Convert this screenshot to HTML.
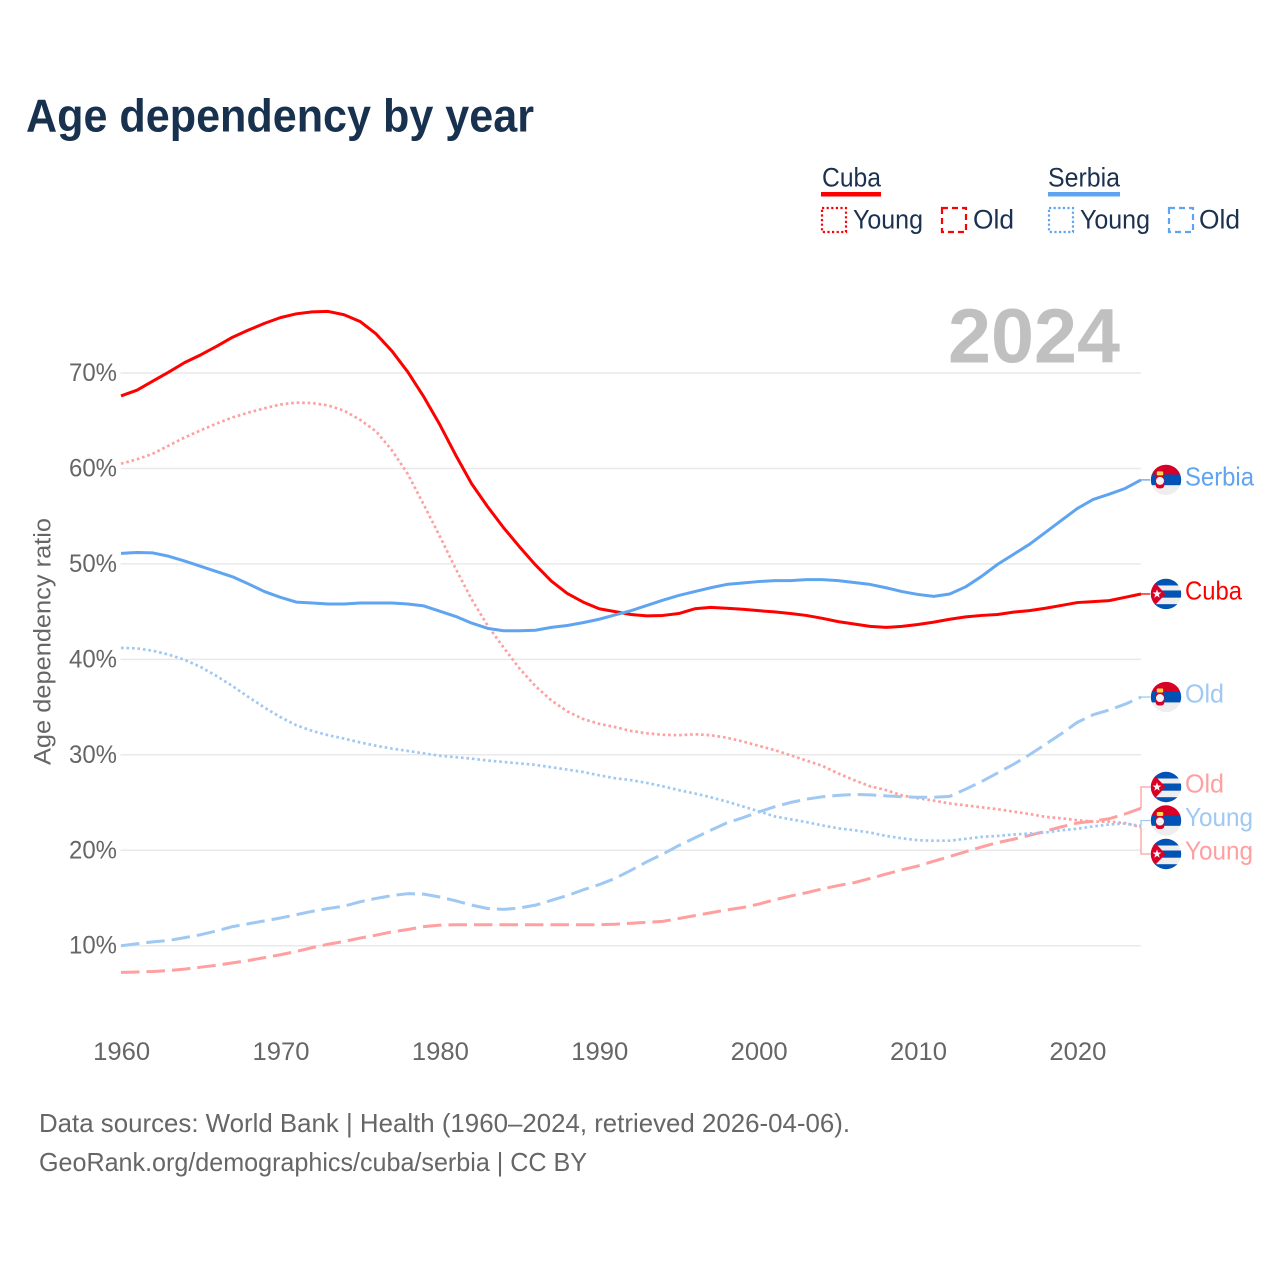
<!DOCTYPE html>
<html lang="en">
<head>
<meta charset="utf-8">
<title>Age dependency by year</title>
<style>
html,body{margin:0;padding:0;background:#fff;}
svg{display:block;font-family:"Liberation Sans",sans-serif;}
</style>
</head>
<body>
<svg id="chart" xmlns="http://www.w3.org/2000/svg" width="1280" height="1280" viewBox="0 0 1280 1280">
  <rect x="0" y="0" width="1280" height="1280" fill="#ffffff"/>
  <text x="26" y="131.5" font-size="46" font-weight="700" fill="#17314f" textLength="508" lengthAdjust="spacingAndGlyphs">Age dependency by year</text>

  <g font-size="26.5" fill="#1a3150">
    <g>
      <text x="822" y="186.5" textLength="59" lengthAdjust="spacingAndGlyphs">Cuba</text>
      <rect x="821" y="192" width="60" height="4.5" fill="#ff0000"/>
      <rect x="822" y="208" width="24" height="24" fill="none" stroke="#ff0000" stroke-width="2.2" stroke-dasharray="2.2 2.4"/>
      <text x="853" y="228.5" textLength="70" lengthAdjust="spacingAndGlyphs">Young</text>
      <rect x="942" y="208" width="24" height="24" fill="none" stroke="#ff0000" stroke-width="2.2" stroke-dasharray="6 4"/>
      <text x="973" y="228.5" textLength="41" lengthAdjust="spacingAndGlyphs">Old</text>
    </g>
    <g>
      <text x="1048" y="186.5" textLength="72" lengthAdjust="spacingAndGlyphs">Serbia</text>
      <rect x="1048" y="192" width="72" height="4.5" fill="#5fa4f0"/>
      <rect x="1049" y="208" width="24" height="24" fill="none" stroke="#5fa4f0" stroke-width="2.2" stroke-dasharray="2.2 2.4"/>
      <text x="1080" y="228.5" textLength="70" lengthAdjust="spacingAndGlyphs">Young</text>
      <rect x="1169" y="208" width="24" height="24" fill="none" stroke="#5fa4f0" stroke-width="2.2" stroke-dasharray="6 4"/>
      <text x="1199" y="228.5" textLength="41" lengthAdjust="spacingAndGlyphs">Old</text>
    </g>
  </g>

  <text x="948" y="362.5" font-size="77" font-weight="700" fill="#c0c0c0" textLength="172" lengthAdjust="spacingAndGlyphs">2024</text>
  <text transform="translate(50.5,765) rotate(-90)" font-size="24.5" fill="#666666" textLength="247" lengthAdjust="spacingAndGlyphs">Age dependency ratio</text>

  <g id="grid"></g>
  <g id="y-ticks"></g>
  <g id="x-ticks"></g>
  <g id="series"></g>
  <g id="end-labels"></g>

  <text x="39" y="1132" font-size="26" fill="#666666" textLength="811" lengthAdjust="spacingAndGlyphs">Data sources: World Bank | Health (1960–2024, retrieved 2026-04-06).</text>
  <text x="39" y="1171" font-size="26" fill="#666666" textLength="548" lengthAdjust="spacingAndGlyphs">GeoRank.org/demographics/cuba/serbia | CC BY</text>
</svg>

<script>
const startYear = 1960;
const endYear = 2024;
const xTicks = [1960, 1970, 1980, 1990, 2000, 2010, 2020];
const yTicks = [10, 20, 30, 40, 50, 60, 70];

const cubaTotal = [67.6,68.2,69.15,70.1,71.1,71.9,72.8,73.75,74.5,75.2,75.8,76.2,76.4,76.45,76.1,75.4,74.1,72.3,70.1,67.5,64.6,61.4,58.4,56.0,53.8,51.8,49.9,48.2,46.9,46.0,45.3,45.0,44.7,44.55,44.6,44.8,45.3,45.45,45.35,45.25,45.1,44.97,44.8,44.6,44.3,43.95,43.7,43.45,43.35,43.45,43.65,43.9,44.2,44.45,44.6,44.7,44.95,45.1,45.35,45.65,45.95,46.05,46.15,46.5,46.85];
const serbiaTotal = [51.1,51.2,51.15,50.8,50.3,49.75,49.2,48.65,47.9,47.1,46.5,46.0,45.9,45.8,45.8,45.9,45.9,45.9,45.8,45.6,45.05,44.5,43.8,43.25,43.0,43.0,43.05,43.35,43.55,43.85,44.2,44.65,45.1,45.65,46.2,46.7,47.1,47.5,47.85,48.0,48.15,48.25,48.25,48.35,48.35,48.25,48.05,47.85,47.5,47.1,46.8,46.6,46.85,47.6,48.7,49.95,51.0,52.05,53.3,54.55,55.8,56.75,57.3,57.9,58.8];
const cubaYoung = [60.5,60.95,61.55,62.4,63.25,64.0,64.7,65.35,65.85,66.3,66.7,66.9,66.85,66.6,66.05,65.1,63.9,61.9,59.4,56.2,52.9,49.5,46.3,43.55,41.25,39.05,37.2,35.7,34.55,33.75,33.25,32.9,32.5,32.25,32.1,32.05,32.15,32.05,31.8,31.4,30.95,30.5,29.95,29.4,28.85,28.05,27.35,26.7,26.3,25.75,25.45,25.2,24.9,24.7,24.5,24.3,24.05,23.8,23.5,23.35,23.15,23.0,23.0,22.85,22.4];
const cubaOld = [7.2,7.25,7.3,7.4,7.55,7.75,7.95,8.2,8.45,8.75,9.05,9.4,9.8,10.15,10.45,10.8,11.1,11.45,11.7,12.0,12.15,12.2,12.2,12.2,12.2,12.2,12.2,12.2,12.2,12.2,12.2,12.25,12.35,12.45,12.55,12.85,13.15,13.45,13.75,14.0,14.35,14.8,15.2,15.55,15.95,16.3,16.6,17.05,17.5,17.95,18.35,18.85,19.35,19.85,20.35,20.8,21.15,21.55,22.0,22.45,22.85,23.05,23.3,23.8,24.4];
const serbiaYoung = [41.2,41.15,40.9,40.5,39.95,39.2,38.25,37.2,36.05,34.95,33.95,33.1,32.5,32.05,31.7,31.3,30.95,30.65,30.4,30.15,29.9,29.75,29.6,29.4,29.25,29.1,28.95,28.7,28.45,28.2,27.85,27.55,27.35,27.05,26.7,26.3,25.95,25.55,25.1,24.6,24.1,23.55,23.25,22.95,22.6,22.3,22.1,21.85,21.5,21.25,21.05,21.0,21.0,21.2,21.4,21.5,21.65,21.75,21.85,22.1,22.25,22.5,22.7,22.8,22.55];
const serbiaOld = [10.0,10.2,10.4,10.55,10.85,11.15,11.55,12.0,12.3,12.6,12.9,13.25,13.6,13.9,14.15,14.6,14.95,15.25,15.45,15.4,15.1,14.7,14.25,13.9,13.8,13.95,14.25,14.75,15.25,15.85,16.4,17.05,17.9,18.8,19.6,20.5,21.3,22.1,22.85,23.4,24.0,24.55,25.0,25.35,25.6,25.75,25.85,25.8,25.7,25.6,25.55,25.55,25.65,26.4,27.2,28.1,29.0,30.0,31.1,32.2,33.4,34.2,34.7,35.3,36.05];

const SVG_NS = 'http://www.w3.org/2000/svg';
const plotLeft = 121, plotRight = 1141;
const xScale = year => plotLeft + (year - startYear) * (plotRight - plotLeft) / (endYear - startYear);
const yScale = value => 1041.15 - 9.545 * value;

function mk(tag, attrs, parent, text) {
  const el = document.createElementNS(SVG_NS, tag);
  for (const k in attrs) el.setAttribute(k, attrs[k]);
  if (text !== undefined) el.textContent = text;
  parent.appendChild(el);
  return el;
}

const gridG = document.getElementById('grid');
const yTickG = document.getElementById('y-ticks');
const xTickG = document.getElementById('x-ticks');
const seriesG = document.getElementById('series');
const labelG = document.getElementById('end-labels');

yTicks.forEach(v => {
  const line = mk('line', {x1: plotLeft - 0.5, x2: plotRight, y1: yScale(v), y2: yScale(v), stroke: '#e9e9e9', 'stroke-width': 1.5}, gridG);
  
  
  const t = mk('text', {x: 69, y: yScale(v) + 8, 'font-size': 25, fill: '#666666', textLength: 48, lengthAdjust: 'spacingAndGlyphs'}, yTickG, v + '%');
  
  
});

xTicks.forEach(yr => {
  const t = mk('text', {x: xScale(yr) + 0.7, y: 1060, 'font-size': 25, fill: '#666666', 'text-anchor': 'middle', textLength: 57, lengthAdjust: 'spacingAndGlyphs'}, xTickG, String(yr));
  
  
});

const DOTTED = '2.6 2.9';
const DASHED = '18.5 7';
const seriesList = [
  {key: 'cuba-young', values: cubaYoung, color: '#ff9f9f', dash: DOTTED, width: 2.7, label: 'Young', textW: 68, flag: 'cuba'},
  {key: 'cuba-old', values: cubaOld, color: '#ff9f9f', dash: DASHED, width: 3, label: 'Old', textW: 39, flag: 'cuba'},
  {key: 'serbia-young', values: serbiaYoung, color: '#9fc8f3', dash: DOTTED, width: 2.7, label: 'Young', textW: 68, flag: 'serbia'},
  {key: 'serbia-old', values: serbiaOld, color: '#9fc8f3', dash: DASHED, width: 3, label: 'Old', textW: 39, flag: 'serbia'},
  {key: 'cuba-total', values: cubaTotal, color: '#ff0000', dash: null, width: 3, label: 'Cuba', textW: 57, flag: 'cuba'},
  {key: 'serbia-total', values: serbiaTotal, color: '#5fa4f0', dash: null, width: 3, label: 'Serbia', textW: 69, flag: 'serbia'}
];

seriesList.forEach(s => {
  const d = s.values.map((v, i) => (i ? 'L' : 'M') + xScale(startYear + i).toFixed(2) + ' ' + yScale(v).toFixed(2)).join(' ');
  const attrs = {d: d, fill: 'none', stroke: s.color, 'stroke-width': s.width, 'stroke-linejoin': 'round'};
  if (s.dash) attrs['stroke-dasharray'] = s.dash;
  const p = mk('path', attrs, seriesG);
  
  
});

/* spread overlapping end labels around the mean of their cluster */
const LABEL_GAP = 33.5;
function spreadLabels(items) {
  const sorted = items.slice().sort((a, b) => a.endY - b.endY);
  let groups = sorted.map(it => ({members: [it], center: it.endY}));
  let merged = true;
  while (merged) {
    merged = false;
    for (let i = 0; i < groups.length - 1; i++) {
      const a = groups[i], b = groups[i + 1];
      const aBottom = a.center + (a.members.length - 1) * LABEL_GAP / 2;
      const bTop = b.center - (b.members.length - 1) * LABEL_GAP / 2;
      if (bTop - aBottom < LABEL_GAP) {
        const members = a.members.concat(b.members);
        const center = members.reduce((sum, m) => sum + m.endY, 0) / members.length;
        groups.splice(i, 2, {members: members, center: center});
        merged = true;
        break;
      }
    }
  }
  groups.forEach(g => g.members.forEach((m, i) => {
    m.labelY = g.center + (i - (g.members.length - 1) / 2) * LABEL_GAP;
  }));
}
const endItems = seriesList.map(s => ({s: s, endY: yScale(s.values[s.values.length - 1])}));
spreadLabels(endItems);

const FLAG_X = 1166, FLAG_R = 15.2;

function starPoints(cx, cy, R) {
  const pts = [];
  for (let i = 0; i < 10; i++) {
    const r = i % 2 ? R * 0.42 : R;
    const a = -Math.PI / 2 + i * Math.PI / 5;
    pts.push((cx + r * Math.cos(a)).toFixed(2) + ',' + (cy + r * Math.sin(a)).toFixed(2));
  }
  return pts.join(' ');
}

function drawFlag(kind, cy, key) {
  const g = mk('g', {}, labelG);
  
  
  const clipId = 'clip-' + key;
  const clip = mk('clipPath', {id: clipId}, g);
  mk('circle', {cx: FLAG_X, cy: cy, r: FLAG_R}, clip);
  const inner = mk('g', {'clip-path': 'url(#' + clipId + ')'}, g);
  const left = FLAG_X - FLAG_R - 1, w = 2 * FLAG_R + 2, top = cy - FLAG_R - 1;
  if (kind === 'serbia') {
    mk('rect', {x: left, y: top, width: w, height: 11.3, fill: '#d80027'}, inner);
    mk('rect', {x: left, y: cy - 5.4, width: w, height: 10.8, fill: '#0052b4'}, inner);
    mk('rect', {x: left, y: cy + 5.4, width: w, height: 11, fill: '#eeeeee'}, inner);
    mk('rect', {x: FLAG_X - 10.3, y: cy - 5, width: 8.6, height: 13.5, rx: 3, fill: '#d80027'}, inner);
    mk('circle', {cx: FLAG_X - 6, cy: cy + 1, r: 4, fill: '#f4f4f4'}, inner);
    mk('rect', {x: FLAG_X - 9.2, y: cy - 8.5, width: 6.4, height: 4, rx: 1, fill: '#ffda44'}, inner);
  } else {
    mk('rect', {x: left, y: top, width: w, height: 2 * FLAG_R + 2, fill: '#eeeeee'}, inner);
    mk('rect', {x: left, y: top, width: w, height: 7.7, fill: '#0052b4'}, inner);
    mk('rect', {x: left, y: cy - 3.5, width: w, height: 7.2, fill: '#0052b4'}, inner);
    mk('rect', {x: left, y: cy + 10.2, width: w, height: 7, fill: '#0052b4'}, inner);
    const tri = (left + 0.5) + ',' + (cy - FLAG_R - 1) + ' ' + (FLAG_X - 0.5) + ',' + cy + ' ' + (left + 0.5) + ',' + (cy + FLAG_R + 1);
    mk('polygon', {points: tri, fill: '#d80027'}, inner);
    mk('polygon', {points: starPoints(FLAG_X - 9, cy, 4.6), fill: '#f4f4f4'}, inner);
  }
}

endItems.forEach(item => {
  const s = item.s;
  const connector = mk('path', {d: 'M' + plotRight + ' ' + item.endY.toFixed(2) + ' V' + item.labelY.toFixed(2) + ' H1150', fill: 'none', stroke: s.color, 'stroke-width': 1.3}, labelG);
  
  
  drawFlag(s.flag, item.labelY, s.key);
  const t = mk('text', {x: 1185, y: item.labelY + 5.5, 'font-size': 26, fill: s.color, textLength: s.textW, lengthAdjust: 'spacingAndGlyphs'}, labelG, s.label);
  
  
});
</script>
</body>
</html>
